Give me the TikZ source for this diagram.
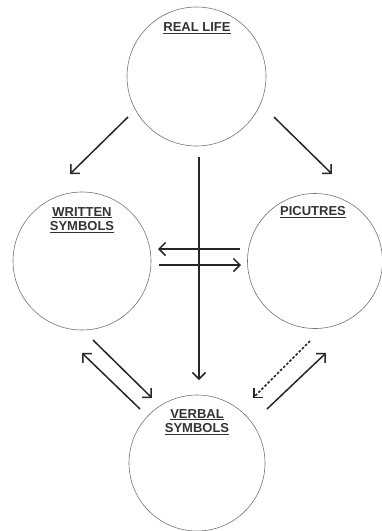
\documentclass[tikz,border=0pt]{standalone}
\usepackage{fontspec}
\newfontfamily\labfont{Liberation Sans}
\usetikzlibrary{arrows.meta}
\tikzset{
  bubble/.style={circle, draw=black!55, line width=0.6pt, minimum size=#1, inner sep=0pt},
  lab/.style={font=\labfont\bfseries\fontsize{13}{14.5}\selectfont, text=black!80, align=center, inner sep=0pt},
  link/.style={line width=1.5pt, draw=black!85, -{Straight Barb[length=6.5pt,width=13pt,line width=1.5pt]}},
  dlink/.style={link, dash pattern=on 2.6pt off 1.8pt}
}
\begin{document}
\begin{tikzpicture}[x=1pt,y=-1pt]
\useasboundingbox (0,0) rectangle (381,531);
% circles
\node[bubble=139pt] (real) at (196.5,76.5) {};
\node[bubble=138pt] (written) at (82,261) {};
\node[bubble=135pt] (pict) at (315,261) {};
\node[bubble=136pt] (verbal) at (197,463) {};
% labels
\node[lab] (reallab) at (197,28) {\underline{REAL LIFE}};
\node[lab] (writlab) at (82,220) {\underline{WRITTEN}\\\underline{SYMBOLS}};
\node[lab] (pictlab) at (313,212) {\underline{PICUTRES}};
\node[lab] (verblab) at (197,422) {\underline{VERBAL}\\\underline{SYMBOLS}};
% connector end points
\coordinate (a1) at (128,117); \coordinate (a2) at (70,174);
\coordinate (b1) at (274,117); \coordinate (b2) at (332,174);
\coordinate (c1) at (199,157); \coordinate (c2) at (199,380);
\coordinate (d1) at (240,249); \coordinate (d2) at (158,249);
\coordinate (e1) at (159,265); \coordinate (e2) at (241,265);
\coordinate (f1) at (93,340);  \coordinate (f2) at (152,398);
\coordinate (g1) at (140,409); \coordinate (g2) at (82,353);
\coordinate (h1) at (310,341); \coordinate (h2) at (253,398);
\coordinate (i1) at (267,409); \coordinate (i2) at (326,353);
% connectors
\draw[link] (a1) -- (a2);
\draw[link] (b1) -- (b2);
\draw[link] (c1) -- (c2);
\draw[link] (d1) -- (d2);
\draw[link] (e1) -- (e2);
\draw[link] (f1) -- (f2);
\draw[link] (g1) -- (g2);
\draw[dlink] (h1) -- (h2);
\draw[link] (i1) -- (i2);
\end{tikzpicture}
\end{document}
